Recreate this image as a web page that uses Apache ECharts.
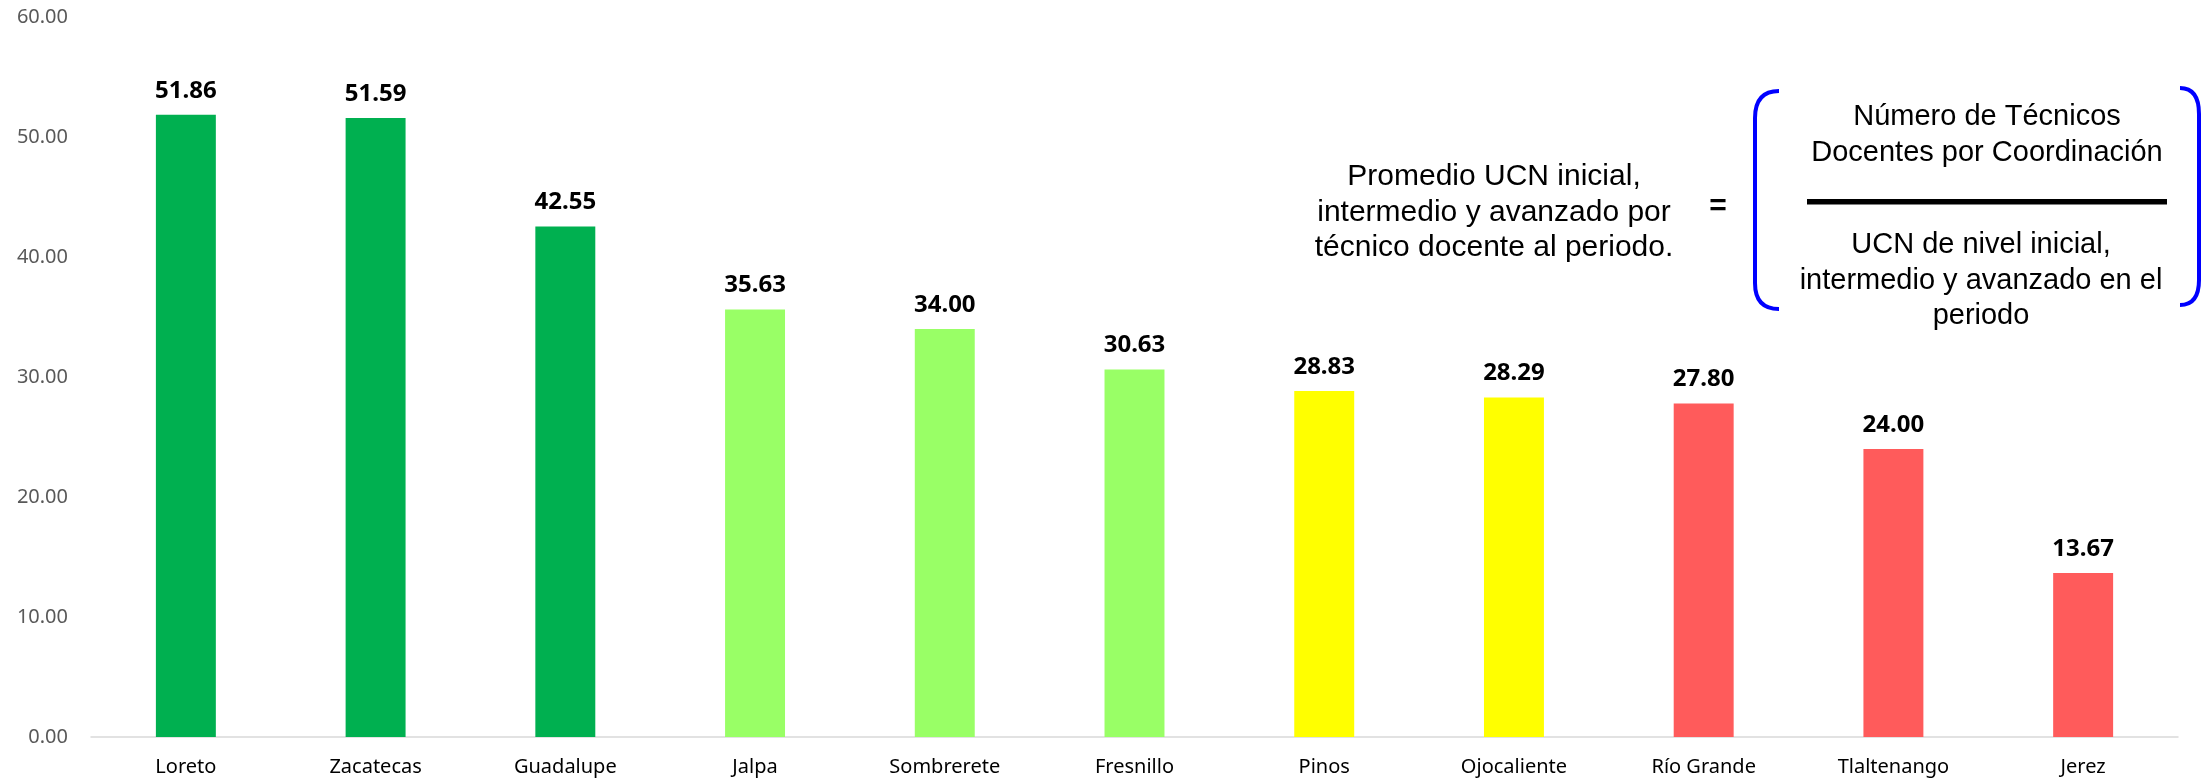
<!DOCTYPE html>
<html>
<head>
<meta charset="utf-8">
<script src="https://cdn.jsdelivr.net/npm/echarts@6/dist/echarts.min.js"></script>
<style>
html,body{margin:0;padding:0;background:#fff;}
#c{width:2210px;height:783px;}
</style>
</head>
<body>
<div id="c"></div>
<script>
const categories = ['Loreto','Zacatecas','Guadalupe','Jalpa','Sombrerete','Fresnillo','Pinos','Ojocaliente','Río Grande','Tlaltenango','Jerez'];
const values = [51.86, 51.59, 42.55, 35.63, 34.00, 30.63, 28.83, 28.29, 27.80, 24.00, 13.67];
const levels = ['alto','alto','alto','medioAlto','medioAlto','medioAlto','medio','medio','bajo','bajo','bajo'];
const yTicks = [0, 10, 20, 30, 40, 50, 60];
const leftText = ['Promedio UCN inicial,', 'intermedio y avanzado por', 'técnico docente al periodo.'];
const numText = ['Número de Técnicos', 'Docentes por Coordinación'];
const denText = ['UCN de nivel inicial,', 'intermedio y avanzado en el', 'periodo'];

const levelColors = { alto: '#00B050', medioAlto: '#99FF66', medio: '#FFFF00', bajo: '#FF5B5B' };
const F = '"Noto Sans", "Open Sans", sans-serif';

const chart = echarts.init(document.getElementById('c'));

function textBlock(lines, cx, y0, step, size, sx) {
  return lines.map((t, i) => ({
    type: 'text', x: cx, y: y0 + i * step, scaleX: sx,
    style: { x: 0, y: 0, text: t, fill: '#000', font: size + 'px "Liberation Sans", sans-serif', textAlign: 'center', textVerticalAlign: 'middle' },
    silent: true
  }));
}
const blue = { stroke: '#0000FF', lineWidth: 4, fill: null };
function curve(x1, y1, cx, cy, x2, y2) {
  return { type: 'bezierCurve', shape: { x1: x1, y1: y1, cpx1: cx, cpy1: cy, x2: x2, y2: y2 }, style: blue };
}
function seg(x1, y1, x2, y2) {
  return { type: 'line', shape: { x1: x1, y1: y1, x2: x2, y2: y2 }, style: blue };
}

const graphics = []
  .concat(textBlock(leftText, 1494, 177, 35.5, 30, 1))
  .concat(textBlock(numText, 1987, 117, 36, 29, 1))
  .concat(textBlock(denText, 1981, 245, 35.5, 29, 1))
  .concat([
    { type: 'text', x: 1718, y: 207, style: { x: 0, y: 0, text: '=', fill: '#000', font: 'bold 30px "Liberation Sans", sans-serif', textAlign: 'center', textVerticalAlign: 'middle' } },
    { type: 'rect', shape: { x: 1807, y: 199, width: 360, height: 5.5 }, style: { fill: '#000' } },
    curve(1779, 91, 1755, 91, 1755, 118), seg(1755, 118, 1755, 283), curve(1755, 283, 1755, 309, 1779, 309),
    curve(2180, 88, 2199, 88, 2199, 114), seg(2199, 114, 2199, 280), curve(2199, 280, 2199, 305, 2180, 305)
  ]);

chart.setOption({
  animation: false,
  backgroundColor: '#fff',
  grid: { left: 91, right: 32, top: 17, bottom: 46, containLabel: false },
  xAxis: {
    type: 'category', data: categories,
    axisTick: { show: false },
    axisLine: { lineStyle: { color: '#D9D9D9', width: 1.5 } },
    axisLabel: { color: '#000', fontSize: 20, fontFamily: F, margin: 20 }
  },
  yAxis: {
    type: 'value', min: yTicks[0], max: yTicks[yTicks.length - 1], interval: 10,
    splitLine: { show: false },
    axisLine: { show: false },
    axisTick: { show: false },
    axisLabel: { color: '#595959', fontSize: 20, fontFamily: F, margin: 23, formatter: v => v.toFixed(2) }
  },
  series: [{
    type: 'bar',
    barWidth: '31.6%',
    data: values.map((v, i) => ({ value: v, itemStyle: { color: levelColors[levels[i]] } })),
    label: {
      show: true, position: 'top', distance: 12,
      color: '#000', fontWeight: 'bold', fontSize: 24, fontFamily: F,
      formatter: p => p.value.toFixed(2)
    }
  }],
  graphic: graphics
});
</script>
</body>
</html>
